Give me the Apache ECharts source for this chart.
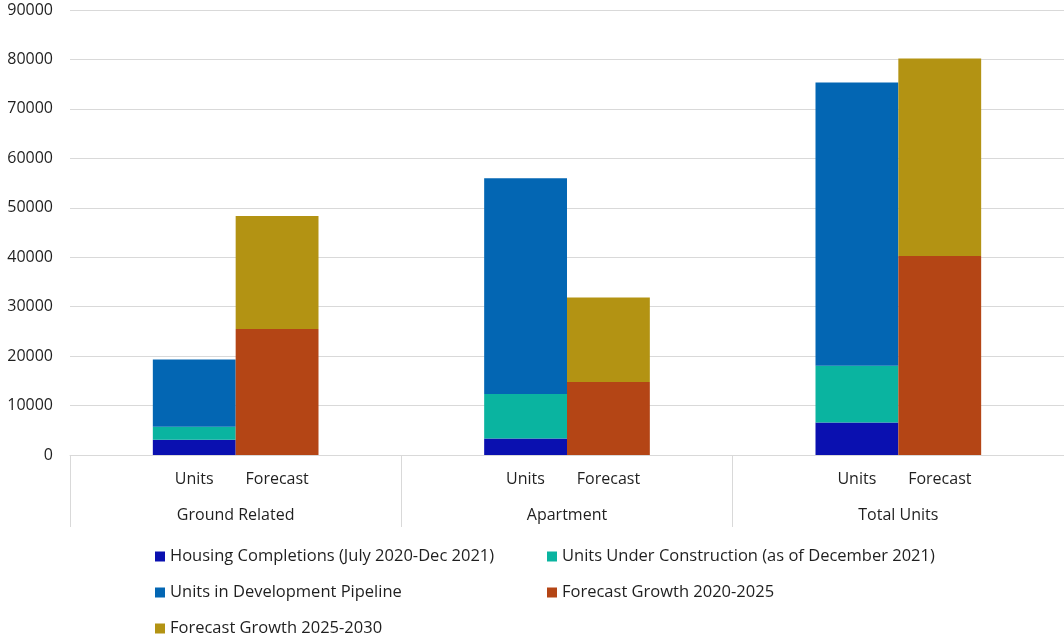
<!DOCTYPE html>
<html>
<head>
<meta charset="utf-8">
<script src="https://cdn.jsdelivr.net/npm/echarts@6/dist/echarts.min.js"></script>
<style>html,body{margin:0;padding:0;background:#fff}#c{width:1064px;height:635px}</style>
</head>
<body>
<div id="c"></div>
<script>
const categories = ['Ground Related', 'Apartment', 'Total Units'];
const subLabels = ['Units', 'Forecast'];
const completions = [3100, 3350, 6550];
const underConstruction = [2620, 8970, 11500];
const pipeline = [13600, 43650, 57300];
const forecast2025 = [25500, 14750, 40250];
const forecast2030 = [22850, 17100, 39950];
const yTicks = [0, 90000, 10000];

const names = [
  'Housing Completions (July 2020-Dec 2021)',
  'Units Under Construction (as of December 2021)',
  'Units in Development Pipeline',
  'Forecast Growth 2020-2025',
  'Forecast Growth 2025-2030'
];
const colors = ['#0a10b0', '#0ab4a0', '#0366b3', '#b44515', '#b39313'];
const FONT = 'Open Sans';
const TXT = '#1f1f1f';
const AX = 16;

const chart = echarts.init(document.getElementById('c'));
function bar(i, data, stack) {
  return {
    name: names[i], type: 'bar', stack: stack, data: data,
    itemStyle: { color: colors[i] },
    barGap: '0%', barCategoryGap: '50%'
  };
}
// legend placement: [name index, left, top]
const legendPos = [[0, 155, 548], [1, 547, 548], [2, 155, 584], [3, 547, 584], [4, 155, 620]];
const legends = legendPos.map(function (p) {
  return {
    data: [names[p[0]]], left: p[1], top: p[2], padding: 0,
    itemWidth: 10, itemHeight: 10, icon: 'rect',
    textStyle: { fontSize: 16.5, color: TXT, fontFamily: FONT, lineHeight: 16 }
  };
});
chart.setOption({
  animation: false,
  color: colors,
  textStyle: { fontFamily: FONT },
  grid: { left: 70, right: 0, top: 10, bottom: 180 },
  xAxis: {
    type: 'category',
    data: categories,
    axisLine: { lineStyle: { color: '#d9d9d9' } },
    axisTick: { show: true, length: 72, interval: 0, lineStyle: { color: '#d9d9d9' } },
    axisLabel: {
      interval: 0, margin: 6,
      formatter: function (v) {
        return '{u|' + subLabels[0] + '}{f|' + subLabels[1] + '}\n{g|' + v + '}';
      },
      rich: {
        u: { width: 83, align: 'center', lineHeight: 36, fontSize: AX, color: TXT, fontFamily: FONT },
        f: { width: 83, align: 'center', lineHeight: 36, fontSize: AX, color: TXT, fontFamily: FONT },
        g: { width: 166, align: 'center', lineHeight: 36, fontSize: AX, color: TXT, fontFamily: FONT }
      }
    }
  },
  yAxis: {
    type: 'value', min: yTicks[0], max: yTicks[1], interval: yTicks[2],
    axisLine: { show: false }, axisTick: { show: false },
    axisLabel: { margin: 17, fontSize: AX, color: TXT, fontFamily: FONT, formatter: function (v) { return String(v); } },
    splitLine: { lineStyle: { color: '#d9d9d9', width: 1 } }
  },
  legend: legends,
  series: [
    bar(0, completions, 'units'),
    bar(1, underConstruction, 'units'),
    bar(2, pipeline, 'units'),
    bar(3, forecast2025, 'forecast'),
    bar(4, forecast2030, 'forecast')
  ]
});
</script>
</body>
</html>
